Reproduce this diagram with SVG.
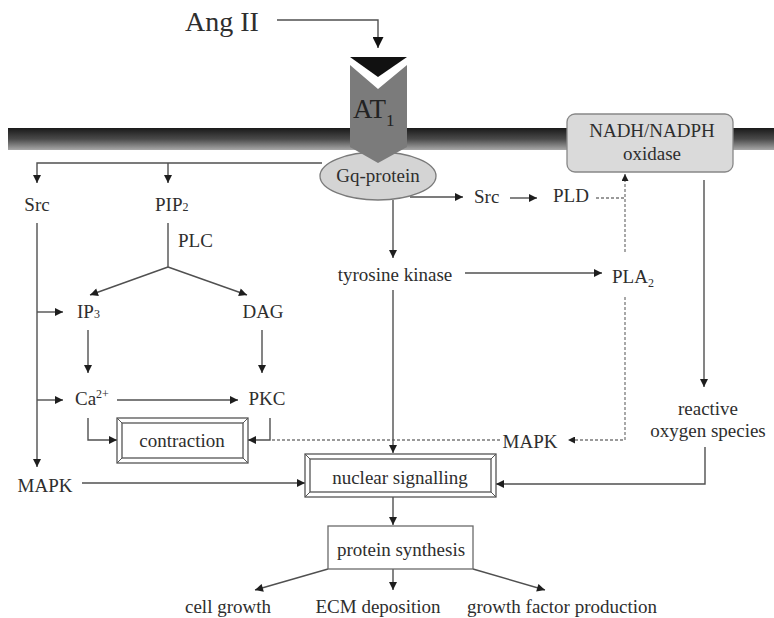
<svg xmlns="http://www.w3.org/2000/svg" width="774" height="618" viewBox="0 0 774 618">
<defs>
<linearGradient id="mem" x1="0" y1="0" x2="0" y2="1">
<stop offset="0" stop-color="#1a1a1a"/>
<stop offset="0.5" stop-color="#4a4a4a"/>
<stop offset="1" stop-color="#a8a8a8"/>
</linearGradient>
<marker id="ah" viewBox="0 0 10 10" refX="10" refY="5" markerWidth="9" markerHeight="8" markerUnits="userSpaceOnUse" orient="auto">
<path d="M0,0 L10,5 L0,10 z" fill="#1e1e1e"/>
</marker>
<marker id="ahs" viewBox="0 0 10 10" refX="10" refY="5" markerWidth="8" markerHeight="7" markerUnits="userSpaceOnUse" orient="auto">
<path d="M0,0 L10,5 L0,10 z" fill="#1e1e1e"/>
</marker>
<marker id="ahb" viewBox="0 0 10 10" refX="10" refY="5" markerWidth="11" markerHeight="11" markerUnits="userSpaceOnUse" orient="auto">
<path d="M0,0 L10,5 L0,10 z" fill="#111"/>
</marker>
</defs>
<style>
text{font-family:"Liberation Serif","Times New Roman",serif;font-size:19px;fill:#2e2e2e}
.c{text-anchor:middle}
.ln{fill:none;stroke:#505050;stroke-width:1.4}
.a{marker-end:url(#ah)}
.d{fill:none;stroke:#7a7a7a;stroke-width:1.3;stroke-dasharray:3,2}
.fr{fill:#fff;stroke:#555;stroke-width:1.3}
.sub{font-size:12px}
</style>
<rect width="774" height="618" fill="#fff"/>

<g id="membrane">
<rect x="8" y="128" width="766" height="22" fill="url(#mem)"/>
</g>

<g id="connectors">
<path class="ln" d="M277,20 H378 V48" stroke="#111" stroke-width="1.8" marker-end="url(#ahb)"/>
<path class="ln" d="M322,163 H37 V183" marker-end="url(#ah)"/>
<path class="ln a" d="M168,163 V183"/>
<path class="ln a" d="M37,223 V467"/>
<path class="ln a" d="M37,312 H63"/>
<path class="ln a" d="M37,400 H63"/>
<path class="ln" d="M168,223 V267"/>
<path class="ln a" d="M168,267 L90,295"/>
<path class="ln a" d="M168,267 L247,295"/>
<path class="ln a" d="M88,330 V373"/>
<path class="ln a" d="M262,330 V373"/>
<path class="ln a" d="M117,400 H238"/>
<path class="ln a" d="M88,418 V440 H117"/>
<path class="ln a" d="M270,418 V440 H248"/>
<path class="d" d="M500,440 H270"/>
<path class="d" d="M625,297 V440 H568" marker-end="url(#ahs)"/>
<path class="d" d="M625,252 V174" marker-end="url(#ahs)"/>
<path class="d" d="M596,198 H625"/>
<path class="ln a" d="M410,197 H463"/>
<path class="ln a" d="M510,198 H537"/>
<path class="ln a" d="M393,200 V258"/>
<path class="ln a" d="M465,273 H602"/>
<path class="ln a" d="M393,290 V453"/>
<path class="ln a" d="M704,180 V387"/>
<path class="ln a" d="M705,447 V484 H496"/>
<path class="ln a" d="M82,483 H305"/>
<path class="ln a" d="M393,497 V525"/>
<path class="ln a" d="M328,569 L255,590"/>
<path class="ln a" d="M393,569 V590"/>
<path class="ln a" d="M473,569 L545,590"/>
</g>

<g id="angII">
<text x="185" y="31" style="font-size:28px">Ang II</text>
</g>

<g id="gq">
<ellipse cx="378" cy="176" rx="58" ry="24" fill="#d4d4d4" stroke="#7a7a7a" stroke-width="1.3"/>
<text class="c" x="378" y="182">Gq-protein</text>
</g>

<g id="AT1">
<path d="M350,57 L407,57 L378,77 Z" fill="#111"/>
<path d="M350,65 L378,89 L407,65 L407,147 L378,163 L350,147 Z" fill="#7b7b7b"/>
<text x="353" y="118" style="font-size:27px;fill:#222">AT<tspan class="sub" dy="8" style="font-size:17px">1</tspan></text>
</g>

<g id="nadph">
<rect x="567" y="114" width="166" height="58" rx="8" fill="#dadada" stroke="#888" stroke-width="1.3"/>
<text class="c" x="652" y="137">NADH/NADPH</text>
<text class="c" x="652" y="160">oxidase</text>
</g>

<g id="srcL"><text class="c" x="37" y="211">Src</text></g>
<g id="pip2"><text x="155" y="211">PIP<tspan class="sub">2</tspan></text></g>
<g id="plc"><text x="178" y="247">PLC</text></g>
<g id="ip3"><text x="77" y="318">IP<tspan class="sub">3</tspan></text></g>
<g id="dag"><text class="c" x="263" y="318">DAG</text></g>
<g id="ca"><text x="75" y="405">Ca<tspan class="sub" dy="-7">2+</tspan></text></g>
<g id="pkc"><text class="c" x="267" y="405">PKC</text></g>

<g id="contraction">
<rect class="fr" x="117" y="418" width="131" height="45" stroke-width="2"/>
<rect class="fr" x="122" y="423" width="121" height="35"/>
<path d="M117,418 L122,423 M248,418 L243,423 M117,463 L122,458 M248,463 L243,458" stroke="#555" stroke-width="1"/>
<text class="c" x="182" y="447">contraction</text>
</g>

<g id="mapkL"><text class="c" x="45" y="492">MAPK</text></g>
<g id="mapkR"><text class="c" x="530" y="448">MAPK</text></g>

<g id="srcR"><text x="474" y="203">Src</text></g>
<g id="pld"><text x="553" y="202">PLD</text></g>
<g id="tk"><text class="c" x="395" y="281">tyrosine kinase</text></g>
<g id="pla2"><text x="612" y="283">PLA<tspan class="sub" dy="4">2</tspan></text></g>

<g id="ros">
<text class="c" x="708" y="415">reactive</text>
<text class="c" x="708" y="437">oxygen species</text>
</g>

<g id="nuclear">
<rect class="fr" x="305" y="454" width="191" height="43" stroke-width="2"/>
<rect class="fr" x="310" y="459" width="181" height="33"/>
<path d="M305,454 L310,459 M496,454 L491,459 M305,497 L310,492 M496,497 L491,492" stroke="#555" stroke-width="1"/>
<text class="c" x="400" y="484">nuclear signalling</text>
</g>

<g id="protein">
<rect x="328" y="526" width="145" height="43" fill="#fff" stroke="#6a6a6a" stroke-width="1.3"/>
<text class="c" x="401" y="556">protein synthesis</text>
</g>

<g id="cellgrowth"><text class="c" x="228" y="613">cell growth</text></g>
<g id="ecm"><text class="c" x="378" y="613">ECM deposition</text></g>
<g id="gfp"><text x="467" y="613">growth factor production</text></g>
</svg>
